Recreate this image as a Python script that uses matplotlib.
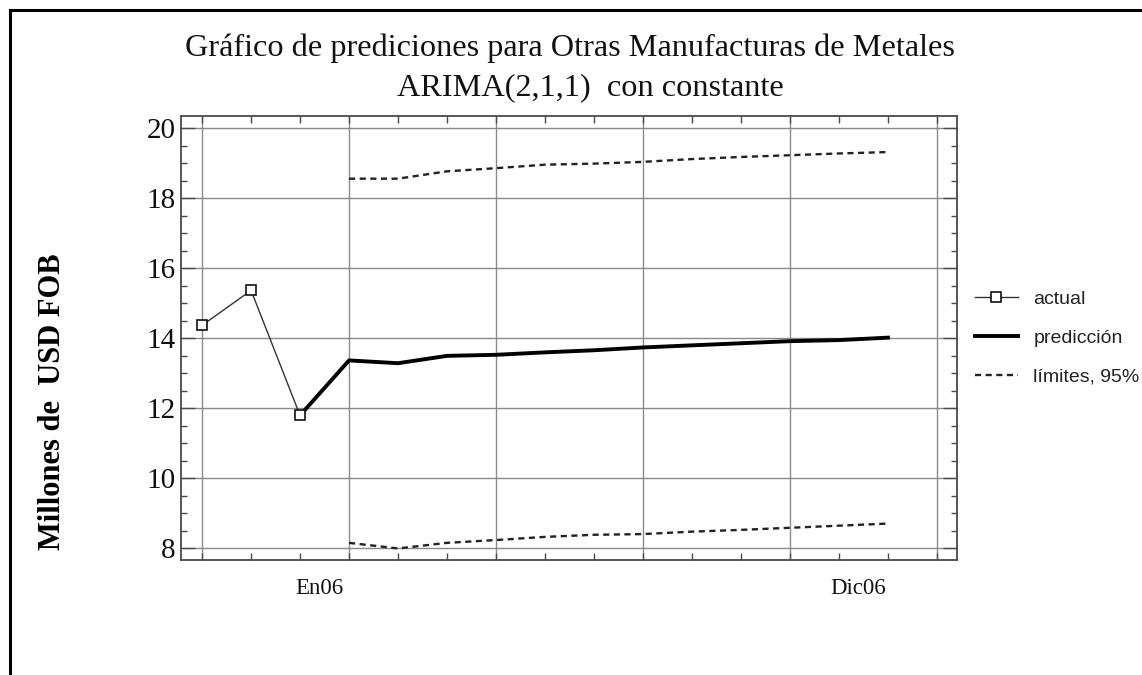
import matplotlib
matplotlib.use("Agg")
import matplotlib.pyplot as plt
from matplotlib.lines import Line2D
from matplotlib.ticker import MultipleLocator, FixedLocator, NullFormatter
import matplotlib.transforms as mtransforms

# Observed monthly exports (Oct05 - Dic05) and 12-month ARIMA forecast (En06 - Dic06)
hist_months = ["Oct05", "Nov05", "Dic05"]
actual = [14.37, 15.37, 11.80]

fc_months = ["En06", "Feb06", "Mar06", "Abr06", "May06", "Jun06",
             "Jul06", "Ago06", "Sep06", "Oct06", "Nov06", "Dic06"]
prediccion = [13.37, 13.29, 13.50, 13.53, 13.60, 13.66,
              13.74, 13.80, 13.86, 13.92, 13.95, 14.02]
lim_sup = [18.56, 18.56, 18.77, 18.86, 18.96, 18.99,
           19.04, 19.12, 19.18, 19.23, 19.28, 19.32]
lim_inf = [8.16, 8.00, 8.16, 8.24, 8.33, 8.39,
           8.41, 8.48, 8.53, 8.59, 8.65, 8.71]

x_labels = ["En06", "Dic06"]
title_lines = ["Gráfico de prediciones para Otras Manufacturas de Metales",
               "ARIMA(2,1,1)  con constante"]
ylabel = "Millones de  USD FOB"

serif = ["Liberation Serif", "DejaVu Serif"]
sans = ["Liberation Sans", "DejaVu Sans"]

W, H = 1142, 675
fig = plt.figure(figsize=(W / 100, H / 100), dpi=100)
fig.patch.set_facecolor("white")

# outer frame (top and left edges)
fig.add_artist(Line2D([10 / W, 1.0], [1 - 10 / H, 1 - 10 / H], transform=fig.transFigure,
                      color="black", lw=2.2, solid_capstyle="projecting"))
fig.add_artist(Line2D([10 / W, 10 / W], [1 - 10 / H, 0.0], transform=fig.transFigure,
                      color="black", lw=2.2, solid_capstyle="projecting"))

left, right, top, bottom = 181, 957, 116, 560
ax = fig.add_axes([left / W, 1 - bottom / H, (right - left) / W, (bottom - top) / H])

n_hist = len(actual)
x_hist = list(range(n_hist))
x_fc = list(range(n_hist, n_hist + len(prediccion)))
all_months = hist_months + fc_months

ax.set_xlim(-0.43, 15.41)
ax.set_ylim(7.67, 20.35)

grid_c = "#8a8a8a"
spine_c = "#4a4a4a"

# grid every 3 months and every 2 units
ax.xaxis.set_major_locator(FixedLocator(list(range(0, 16, 3))))
ax.xaxis.set_minor_locator(FixedLocator(list(range(0, 16))))
ax.yaxis.set_major_locator(MultipleLocator(2))
ax.yaxis.set_minor_locator(MultipleLocator(0.5))
ax.xaxis.set_major_formatter(NullFormatter())
ax.yaxis.set_major_formatter(plt.FuncFormatter(lambda v, p: f"{v:.0f}"))
ax.grid(True, which="major", color=grid_c, lw=1.0)
ax.set_axisbelow(True)

ax.tick_params(axis="x", which="both", direction="in", top=True, bottom=True,
               length=5, width=1.0, color=spine_c, labelbottom=False)
ax.tick_params(axis="y", which="major", direction="in", left=True, right=True,
               length=10, width=1.0, color=spine_c, labelsize=21, pad=4,
               labelcolor="#111111")
ax.tick_params(axis="y", which="minor", direction="in", left=True, right=True,
               length=4.5, width=1.0, color=spine_c)
for lab in ax.get_yticklabels():
    lab.set_fontfamily(serif)
for s in ax.spines.values():
    s.set_color(spine_c)
    s.set_linewidth(1.3)

# limits, forecast and actual series
dash = (0, (2.6, 1.9))
l_sup, = ax.plot(x_fc, lim_sup, color="#222222", lw=1.7, ls=dash)
ax.plot(x_fc, lim_inf, color="#222222", lw=1.7, ls=dash)
l_pred, = ax.plot([x_hist[-1]] + x_fc, [actual[-1]] + prediccion, color="black", lw=2.8)
l_act, = ax.plot(x_hist, actual, color="#333333", lw=1.0, marker="s", markersize=7,
                 markerfacecolor="white", markeredgecolor="#111111", markeredgewidth=1.2)

# month labels below the axis
trans = mtransforms.blended_transform_factory(ax.transData, fig.transFigure)
for lab in x_labels:
    i = all_months.index(lab)
    ax.text(i - 0.6, 1 - 588 / H, lab, transform=trans, ha="center", va="center",
            fontsize=16.5, family=serif, color="#111111")

# legend
leg = fig.legend([l_act, l_pred, l_sup], ["actual", "predicción", "límites, 95%"],
                 loc="center left",
                 bbox_to_anchor=(975 / W, 1 - 338 / H), bbox_transform=fig.transFigure,
                 frameon=False, borderpad=0, borderaxespad=0,
                 handlelength=2.2, handletextpad=0.8, labelspacing=1.1,
                 prop={"family": sans, "size": 14})
for t in leg.get_texts():
    t.set_color("#222222")

# titles
fig.text(570 / W, 1 - 48 / H, title_lines[0], ha="center", va="center",
         fontsize=23.2, family=serif, color="#111111")
fig.text(590 / W, 1 - 88 / H, title_lines[1], ha="center", va="center",
         fontsize=23.2, family=serif, color="#111111")

# y axis title
fig.text(53 / W, 1 - 402 / H, ylabel, ha="center", va="center", rotation=90,
         fontsize=22, family=serif, fontweight="bold", color="black")

fig.savefig("out.png", dpi=100, facecolor="white")
